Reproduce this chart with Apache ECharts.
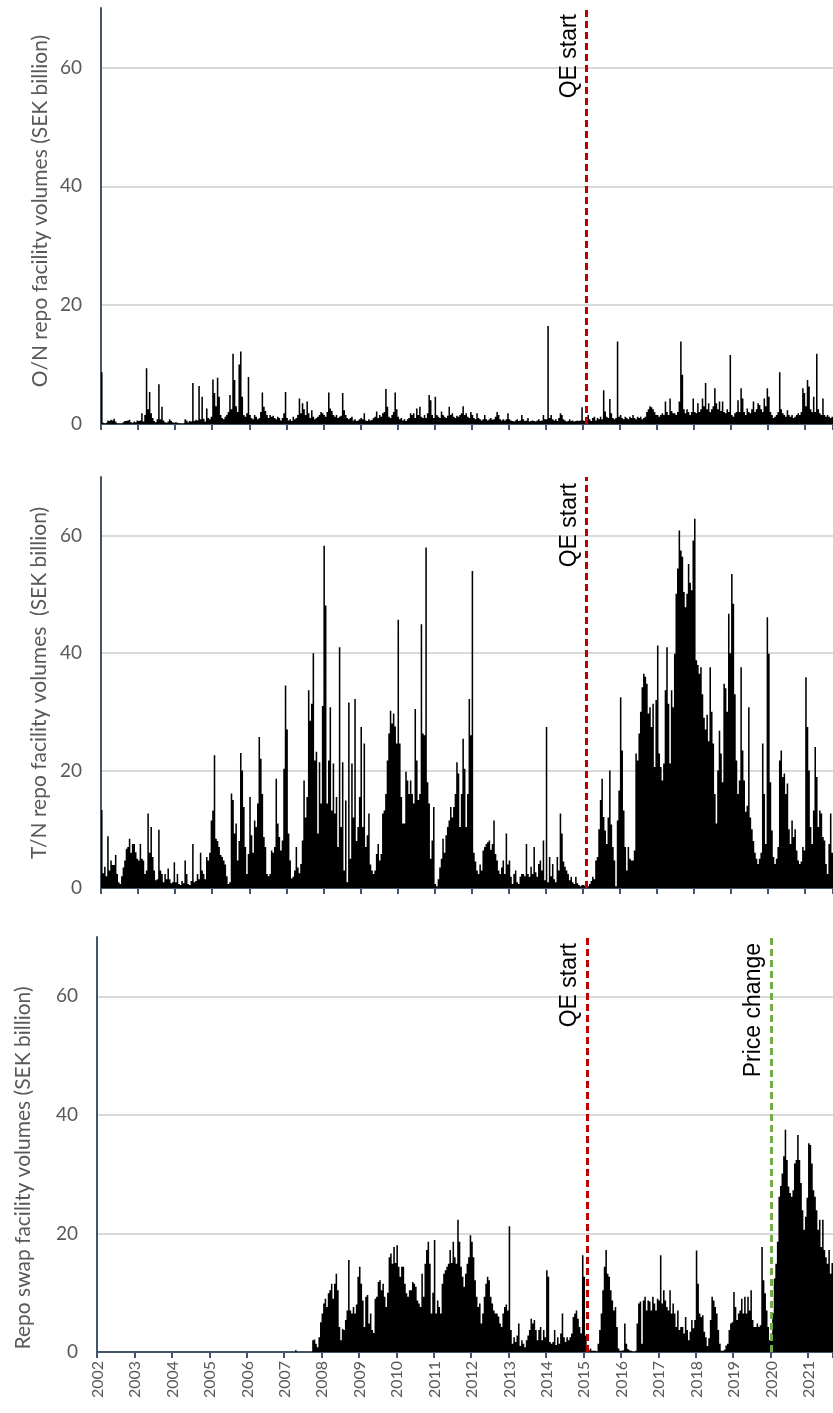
<!DOCTYPE html>
<html>
<head>
<meta charset="utf-8">
<title>Riksbank repo facility volumes</title>
<script src="https://cdn.jsdelivr.net/npm/echarts@6/dist/echarts.min.js"></script>
<style>
  html, body { margin: 0; padding: 0; background: #fff; }
  #chart { width: 833px; height: 1413px; }
</style>
</head>
<body>
<div id="chart"></div>
<script>
// half-month observations (24 per year) from Jan 2002, SEK billion
const years = [2002, 2003, 2004, 2005, 2006, 2007, 2008, 2009, 2010, 2011,
  2012, 2013, 2014, 2015, 2016, 2017, 2018, 2019, 2020, 2021]

const onVolumes = [
  8.7, 0.2, 0.1, 0.2, 0.6, 0.5, 0.7, 0.6, 0.9, 0.4, 0.1, 0.1, 0.0, 0.1, 0.3, 0.5, 0.5, 0.6, 0.7, 0.3, 0.2, 0.4, 0.3, 0.6,
  0.5, 0.6, 1.8, 0.4, 1.5, 9.4, 2.5, 5.4, 1.8, 1.0, 0.5, 0.3, 0.8, 6.7, 0.8, 2.9, 0.6, 0.3, 0.2, 0.4, 0.8, 0.5, 0.3, 0.2,
  0.3, 0.2, 0.1, 0.1, 0.0, 0.1, 0.8, 0.6, 0.3, 0.5, 0.4, 6.9, 0.5, 0.7, 0.6, 6.4, 0.8, 4.6, 0.9, 0.4, 2.6, 1.0, 0.8, 1.2,
  7.5, 5.2, 3.0, 7.8, 4.6, 1.5, 1.0, 0.8, 1.2, 1.5, 2.0, 4.9, 2.5, 11.8, 7.4, 3.0, 2.0, 10.0, 12.2, 4.6, 1.5, 1.2, 1.8, 7.9,
  1.5, 1.0, 0.8, 1.5, 1.2, 0.8, 1.0, 2.0, 5.3, 2.9, 2.2, 1.5, 1.0, 1.5, 1.2, 1.4, 1.0, 0.8, 1.2, 1.0, 0.6, 1.0, 1.8, 5.4,
  1.0, 0.6, 0.8, 0.5, 1.2, 0.8, 1.0, 1.5, 4.3, 1.8, 3.5, 2.5, 1.5, 3.8, 1.8, 1.0, 2.3, 1.2, 0.8, 1.0, 1.2, 1.5, 2.0, 1.8,
  1.5, 1.2, 2.0, 5.3, 2.6, 2.2, 1.5, 1.2, 1.5, 1.0, 1.2, 1.4, 5.2, 2.3, 1.5, 1.0, 0.8, 1.0, 1.2, 0.6, 0.8, 0.5, 0.6, 0.8,
  1.0, 0.8, 1.8, 0.6, 0.5, 0.8, 0.6, 0.7, 1.0, 1.2, 2.1, 1.0, 1.5, 1.2, 1.8, 2.0, 5.9, 2.9, 1.2, 1.0, 1.5, 2.0, 5.3, 2.5,
  1.2, 0.8, 1.0, 0.6, 0.8, 0.5, 0.8, 1.0, 1.8, 1.5, 1.8, 1.0, 2.6, 1.5, 2.9, 1.2, 1.0, 1.5, 1.0, 1.8, 4.9, 4.0, 1.5, 1.0,
  4.6, 1.5, 1.2, 1.0, 2.1, 1.5, 1.2, 1.0, 1.4, 2.9, 1.5, 1.8, 1.2, 1.0, 1.4, 1.2, 1.5, 1.8, 3.0, 1.5, 1.8, 1.2, 1.0, 2.0,
  1.5, 1.0, 0.8, 1.8, 1.0, 0.8, 0.6, 0.8, 1.5, 0.8, 0.6, 0.8, 1.0, 0.7, 0.8, 1.2, 2.0, 1.5, 0.8, 0.6, 0.8, 0.6, 0.8, 1.8,
  0.8, 0.6, 0.5, 0.4, 0.6, 0.8, 0.5, 0.6, 1.5, 0.8, 0.5, 0.6, 1.0, 0.4, 0.5, 0.6, 0.5, 0.4, 0.6, 0.8, 0.5, 0.6, 1.5, 0.8,
  0.8, 16.5, 1.0, 1.5, 0.8, 0.6, 0.8, 0.5, 1.0, 1.8, 1.5, 0.8, 0.6, 0.4, 0.5, 0.8, 0.5, 0.6, 0.4, 0.5, 0.6, 0.5, 0.6, 2.8,
  0.6, 0.5, 0.4, 1.5, 0.8, 0.5, 1.0, 1.2, 0.6, 1.0, 0.8, 1.2, 0.8, 5.7, 2.1, 1.2, 1.0, 4.2, 1.8, 1.0, 0.8, 1.0, 13.9, 1.2,
  1.5, 1.0, 0.8, 1.2, 1.0, 0.8, 1.2, 1.0, 1.5, 1.0, 0.8, 1.2, 1.0, 1.2, 0.8, 1.0, 1.2, 2.0, 2.5, 3.0, 2.8, 2.5, 2.0, 1.5,
  1.5, 1.2, 1.5, 1.8, 1.5, 3.8, 2.0, 1.5, 4.3, 2.2, 1.8, 1.8, 1.5, 2.0, 3.8, 13.9, 8.3, 2.5, 1.8, 2.5, 2.0, 1.5, 2.0, 4.3,
  2.0, 1.8, 3.5, 2.0, 2.5, 4.3, 3.0, 6.9, 2.5, 3.5, 2.0, 2.5, 3.0, 6.0, 3.5, 2.5, 3.8, 2.2, 3.8, 2.0, 1.8, 2.5, 2.0, 11.6,
  1.5, 1.2, 1.8, 2.0, 4.0, 2.0, 6.0, 4.3, 2.0, 1.5, 2.6, 2.0, 1.8, 2.5, 3.8, 2.0, 2.5, 3.5, 3.2, 2.5, 2.0, 4.3, 3.0, 6.0,
  4.6, 2.0, 1.5, 1.0, 1.2, 1.5, 2.0, 8.7, 2.5, 1.8, 1.5, 1.2, 2.3, 1.5, 1.2, 1.5, 1.0, 1.2, 1.5, 1.8, 1.5, 2.0, 6.0, 5.2,
  3.0, 7.4, 6.3, 2.5, 2.0, 4.6, 2.0, 11.8, 2.5, 1.8, 1.5, 4.3, 1.5, 1.2, 1.5, 1.2, 1.0, 1.2
]

const tnVolumes = [
  13.3, 2.5, 3.6, 2.0, 8.8, 3.0, 4.7, 3.9, 3.9, 5.6, 2.4, 1.0, 0.7, 2.0, 3.5, 4.7, 6.7, 7.0, 8.4, 6.0, 7.5, 7.5, 6.1, 5.0,
  4.7, 7.5, 5.0, 4.7, 2.4, 3.0, 12.7, 6.0, 10.4, 5.3, 3.0, 1.3, 1.5, 9.9, 3.0, 2.4, 1.0, 2.4, 1.5, 3.3, 1.5, 0.8, 1.0, 4.4,
  1.0, 2.4, 0.7, 0.5, 1.2, 0.8, 4.7, 2.4, 0.7, 0.5, 1.2, 7.5, 1.0, 1.2, 2.4, 1.5, 6.0, 3.0, 2.4, 1.5, 5.3, 4.7, 6.0, 11.5,
  13.2, 22.6, 8.4, 8.0, 7.0, 5.6, 5.3, 4.7, 4.0, 2.0, 0.7, 1.0, 16.1, 15.0, 9.3, 11.0, 4.7, 8.0, 23.0, 20.0, 13.8, 7.0, 2.4, 5.8,
  15.5, 9.0, 6.0, 11.5, 10.4, 14.4, 25.7, 22.0, 16.0, 8.7, 7.0, 2.4, 2.0, 2.4, 6.4, 6.0, 7.0, 18.6, 11.0, 8.7, 6.4, 8.1, 20.3, 34.5,
  27.0, 9.3, 4.7, 1.6, 1.9, 3.0, 7.0, 3.5, 2.5, 4.1, 8.1, 18.3, 12.0, 15.5, 33.7, 28.5, 31.4, 40.0, 21.7, 23.2, 9.3, 21.4, 14.4, 31.0,
  58.3, 48.1, 14.4, 21.7, 30.8, 13.2, 21.2, 12.7, 15.5, 7.0, 41.0, 10.4, 21.4, 3.0, 14.9, 1.0, 31.6, 5.0, 21.2, 12.0, 32.2, 8.0, 10.4, 15.5,
  27.4, 10.4, 24.6, 7.0, 9.0, 12.7, 4.0, 3.0, 2.4, 3.0, 5.8, 7.5, 4.7, 5.8, 12.7, 13.2, 16.0, 21.7, 26.3, 30.2, 28.0, 29.7, 27.5, 24.6,
  45.7, 24.6, 15.5, 11.0, 11.0, 19.8, 18.3, 16.0, 18.3, 16.0, 14.4, 30.5, 21.7, 15.0, 16.0, 44.9, 26.3, 26.0, 58.0, 18.0, 14.4, 5.0, 8.1, 13.8,
  0.7, 0.3, 1.5, 3.5, 5.0, 8.4, 6.0, 9.0, 10.4, 11.5, 13.8, 12.0, 13.8, 16.0, 21.4, 19.5, 10.4, 16.0, 25.4, 20.3, 10.4, 16.0, 32.2, 26.0,
  54.0, 6.0, 4.5, 3.0, 2.4, 4.0, 3.0, 6.4, 7.0, 7.5, 7.8, 8.1, 6.5, 7.5, 11.5, 5.8, 4.7, 3.0, 2.4, 3.5, 4.7, 2.4, 9.3, 4.0,
  4.7, 1.9, 0.7, 2.4, 3.0, 1.0, 0.7, 1.9, 2.4, 2.4, 2.0, 7.5, 2.4, 1.9, 3.6, 2.4, 7.0, 2.7, 1.9, 4.1, 4.7, 3.0, 8.1, 1.3,
  27.4, 1.0, 5.3, 2.0, 4.1, 1.5, 1.0, 5.3, 3.0, 12.7, 9.3, 4.5, 3.6, 3.0, 2.4, 1.3, 1.9, 1.0, 0.7, 1.9, 0.8, 0.5, 0.3, 0.5,
  0.5, 0.4, 0.3, 0.3, 0.7, 1.2, 1.9, 1.5, 4.7, 5.3, 10.0, 15.0, 18.6, 12.1, 9.8, 7.5, 12.0, 20.0, 10.8, 7.0, 4.7, 0.3, 11.5, 16.6,
  32.5, 23.4, 13.2, 7.0, 3.0, 7.0, 5.0, 4.7, 4.7, 6.4, 22.9, 21.7, 26.3, 30.0, 34.2, 36.5, 36.0, 34.8, 29.7, 30.8, 27.4, 31.4, 20.6, 32.0,
  41.3, 22.9, 20.6, 18.3, 21.2, 33.7, 41.0, 31.4, 21.2, 33.7, 30.8, 39.9, 50.1, 54.4, 60.9, 57.5, 56.4, 50.4, 47.8, 50.1, 55.2, 52.0, 50.7, 59.2,
  62.9, 38.8, 38.0, 36.5, 37.6, 33.0, 29.0, 27.0, 29.5, 25.0, 37.6, 30.0, 24.6, 16.0, 11.0, 20.0, 26.8, 22.9, 18.0, 34.8, 34.0, 30.0, 46.7, 40.0,
  53.5, 48.4, 33.0, 21.7, 16.0, 18.3, 37.6, 23.4, 18.3, 13.0, 14.0, 30.8, 12.0, 10.0, 8.0, 6.0, 5.0, 4.1, 5.0, 6.0, 24.6, 16.0, 7.5, 46.1,
  39.9, 18.0, 9.8, 5.3, 4.1, 5.0, 7.0, 21.7, 23.4, 18.9, 19.5, 16.0, 17.8, 10.0, 7.5, 11.5, 8.7, 10.0, 6.4, 4.7, 4.1, 4.5, 7.0, 6.4,
  35.9, 27.4, 20.0, 10.4, 7.5, 13.2, 24.0, 18.9, 10.4, 13.2, 12.7, 8.7, 8.1, 4.1, 2.4, 7.5, 12.7, 6.0
]

const swapVolumes = [
  0, 0, 0, 0, 0, 0, 0, 0, 0, 0, 0, 0, 0, 0, 0, 0, 0, 0, 0, 0, 0, 0, 0, 0,
  0, 0, 0, 0, 0, 0, 0, 0, 0, 0, 0, 0, 0, 0, 0, 0, 0, 0, 0, 0, 0, 0, 0, 0,
  0, 0, 0, 0, 0, 0, 0, 0, 0, 0, 0, 0, 0, 0, 0, 0, 0, 0, 0, 0, 0, 0, 0, 0,
  0, 0, 0, 0, 0, 0, 0, 0, 0, 0, 0, 0, 0, 0, 0, 0, 0, 0, 0, 0, 0, 0, 0, 0,
  0, 0, 0, 0, 0, 0, 0, 0, 0, 0, 0, 0, 0, 0, 0, 0, 0, 0, 0, 0, 0, 0, 0, 0,
  0, 0, 0, 0, 0, 0, 0, 0.3, 0, 0, 0, 0, 0, 0, 0, 0, 0, 0, 2.0, 2.1, 1.4, 0.8, 2.5, 5.0,
  6.5, 8.2, 9.0, 7.6, 9.9, 10.4, 11.5, 9.0, 11.5, 13.2, 10.4, 4.2, 2.0, 3.9, 3.7, 5.4, 7.0, 15.5, 7.0, 6.5, 7.6, 6.5, 8.0, 12.7,
  14.4, 11.5, 8.7, 4.2, 9.3, 9.6, 4.8, 6.5, 3.7, 3.2, 9.0, 9.3, 11.8, 12.1, 10.4, 11.5, 9.3, 7.6, 10.0, 16.0, 16.6, 14.9, 17.7, 15.0,
  18.0, 14.4, 12.7, 14.4, 14.4, 11.5, 9.9, 9.3, 10.4, 10.4, 11.8, 11.5, 11.0, 8.7, 8.2, 7.6, 13.2, 9.3, 14.9, 17.2, 18.6, 14.9, 6.5, 10.0,
  18.9, 6.5, 8.7, 7.6, 6.5, 11.5, 13.2, 13.8, 14.4, 14.9, 17.2, 15.0, 18.6, 16.0, 14.9, 22.3, 18.6, 14.4, 12.7, 11.0, 13.2, 14.9, 16.0, 19.7,
  18.6, 16.0, 12.1, 9.3, 7.6, 8.2, 4.8, 6.5, 9.3, 11.5, 12.7, 12.1, 9.3, 8.2, 7.0, 6.5, 6.5, 6.0, 4.8, 4.2, 6.5, 7.6, 8.0, 7.0,
  21.2, 3.7, 1.4, 2.5, 1.7, 2.8, 4.8, 1.0, 2.0, 1.4, 0.8, 2.0, 2.8, 3.7, 5.6, 4.8, 5.4, 3.7, 2.0, 3.7, 4.2, 2.0, 3.7, 2.5,
  13.8, 12.7, 1.7, 1.4, 1.7, 3.7, 1.2, 2.5, 1.4, 3.1, 6.5, 2.5, 1.7, 2.5, 2.0, 2.5, 3.1, 5.9, 6.5, 7.0, 5.6, 4.2, 3.1, 16.3,
  12.7, 2.8, 0.6, 0.3, 0.6, 0.2, 0.2, 0.2, 0.1, 1.4, 3.7, 6.5, 10.4, 14.4, 17.2, 13.2, 12.7, 10.4, 8.7, 7.0, 7.6, 4.2, 0.6, 0.2,
  0.2, 0.3, 4.8, 1.4, 0.5, 0.3, 0.2, 0.1, 0.0, 0.2, 4.8, 8.2, 8.5, 1.4, 8.7, 9.3, 7.0, 8.7, 8.5, 7.0, 9.3, 8.2, 7.0, 9.0,
  8.7, 16.3, 8.2, 10.4, 8.7, 7.6, 7.0, 10.4, 6.5, 8.2, 6.5, 4.2, 7.0, 3.7, 4.2, 4.2, 3.1, 5.9, 3.7, 2.0, 3.4, 5.4, 4.0, 5.4,
  17.1, 11.5, 6.5, 5.9, 6.2, 3.4, 2.5, 1.0, 2.3, 5.4, 9.3, 8.7, 7.6, 6.5, 3.7, 1.4, 0.2, 0.2, 0.4, 1.1, 1.4, 3.7, 4.8, 5.0,
  10.1, 7.6, 5.4, 6.5, 7.0, 9.0, 6.5, 9.3, 6.5, 9.3, 7.0, 10.4, 5.4, 4.2, 4.2, 4.8, 4.2, 4.5, 17.7, 12.1, 9.9, 7.0, 4.2, 2.0,
  3.1, 6.5, 12.4, 14.9, 18.6, 26.2, 28.0, 30.1, 33.0, 37.5, 32.4, 27.9, 26.8, 26.2, 27.3, 31.8, 32.4, 36.6, 32.4, 28.5, 23.9, 20.6, 22.8, 26.0,
  35.2, 34.9, 31.8, 27.3, 26.2, 23.9, 20.6, 22.3, 17.7, 22.3, 17.2, 16.0, 14.9, 17.2, 13.2, 15.0
]

const axisTitles = [
  'O/N repo facility volumes (SEK billion)',
  'T/N repo facility volumes  (SEK billion)',
  'Repo swap facility volumes (SEK billion)'
]
const qeStart = '2015-02a'
const priceChange = '2020-01a'

// category names like 2015-02a / 2015-02b
function halfMonths(count) {
  const out = []
  years.forEach(function(y) {
    for (let m = 1; m <= 12; m++) {
      ['a', 'b'].forEach(function(h) {
        if (out.length < count) out.push(y + '-' + String(m).padStart(2, '0') + h)
      })
    }
  })
  return out
}

const slate = '#44546a'
const labelGrey = '#595959'
const isYearStart = function(index) { return index % 24 === 0 }

function xAxisFor(gridIndex, cats, showLabels) {
  return {
    type: 'category',
    gridIndex: gridIndex,
    data: cats,
    axisLine: { lineStyle: { color: slate, width: 2 } },
    axisTick: { show: true, interval: isYearStart, length: 6, lineStyle: { color: slate, width: 2 } },
    axisLabel: {
      show: showLabels,
      interval: isYearStart,
      formatter: function(v) { return v.slice(0, 4) },
      rotate: 90,
      margin: 9,
      color: labelGrey,
      fontFamily: 'Lato',
      fontSize: 16
    },
    splitLine: { show: false }
  }
}

function yAxisFor(gridIndex) {
  return {
    type: 'value',
    gridIndex: gridIndex,
    min: 0,
    max: 70,
    interval: 20,
    axisLine: { show: true, lineStyle: { color: slate, width: 2 } },
    axisTick: { show: false },
    axisLabel: { showMaxLabel: false, margin: 19, color: labelGrey, fontFamily: 'Lato', fontSize: 19 },
    splitLine: { showMinLine: false, showMaxLine: false, lineStyle: { color: '#d9d9d9', width: 2 } }
  }
}

function eventLine(cat, text, color) {
  return {
    xAxis: cat,
    lineStyle: { color: color, type: [7, 4], width: 3 },
    label: { formatter: text }
  }
}

// large mode draws all bars as one path, so neighbouring bars fill solid
function barSeries(index, data, lines) {
  return {
    type: 'bar',
    xAxisIndex: index,
    yAxisIndex: index,
    data: data,
    barCategoryGap: '0%',
    large: true,
    largeThreshold: 100,
    itemStyle: { color: '#000' },
    silent: true,
    markLine: {
      silent: true,
      symbol: 'none',
      label: {
        show: true,
        position: 'insideEndTop',
        distance: 6,
        color: '#000',
        fontFamily: 'Liberation Sans',
        fontSize: 23
      },
      data: lines
    }
  }
}

const chart = echarts.init(document.getElementById('chart'))
const fullCats = halfMonths(onVolumes.length)
const swapCats = halfMonths(swapVolumes.length)

chart.setOption({
  animation: false,
  backgroundColor: '#fff',
  grid: [
    { left: 101, right: 0, top: 8, height: 416 },
    { left: 101, right: 0, top: 477, height: 411 },
    { left: 97, right: 0, top: 937, height: 415 }
  ],
  xAxis: [
    xAxisFor(0, fullCats, false),
    xAxisFor(1, fullCats, false),
    xAxisFor(2, swapCats, true)
  ],
  yAxis: [yAxisFor(0), yAxisFor(1), yAxisFor(2)],
  graphic: [
    { x: 40, y: 211, text: axisTitles[0] },
    { x: 39, y: 683, text: axisTitles[1] },
    { x: 23, y: 1168, text: axisTitles[2] }
  ].map(function(t) {
    return {
      type: 'text',
      x: t.x,
      y: t.y,
      rotation: Math.PI / 2,
      style: { text: t.text, fill: labelGrey, font: '21px Lato', align: 'center', verticalAlign: 'middle' }
    }
  }),
  series: [
    barSeries(0, onVolumes, [eventLine(qeStart, 'QE start', '#c00000')]),
    barSeries(1, tnVolumes, [eventLine(qeStart, 'QE start', '#c00000')]),
    barSeries(2, swapVolumes, [
      eventLine(qeStart, 'QE start', '#c00000'),
      eventLine(priceChange, 'Price change', '#70ad47')
    ])
  ]
})
</script>
</body>
</html>
